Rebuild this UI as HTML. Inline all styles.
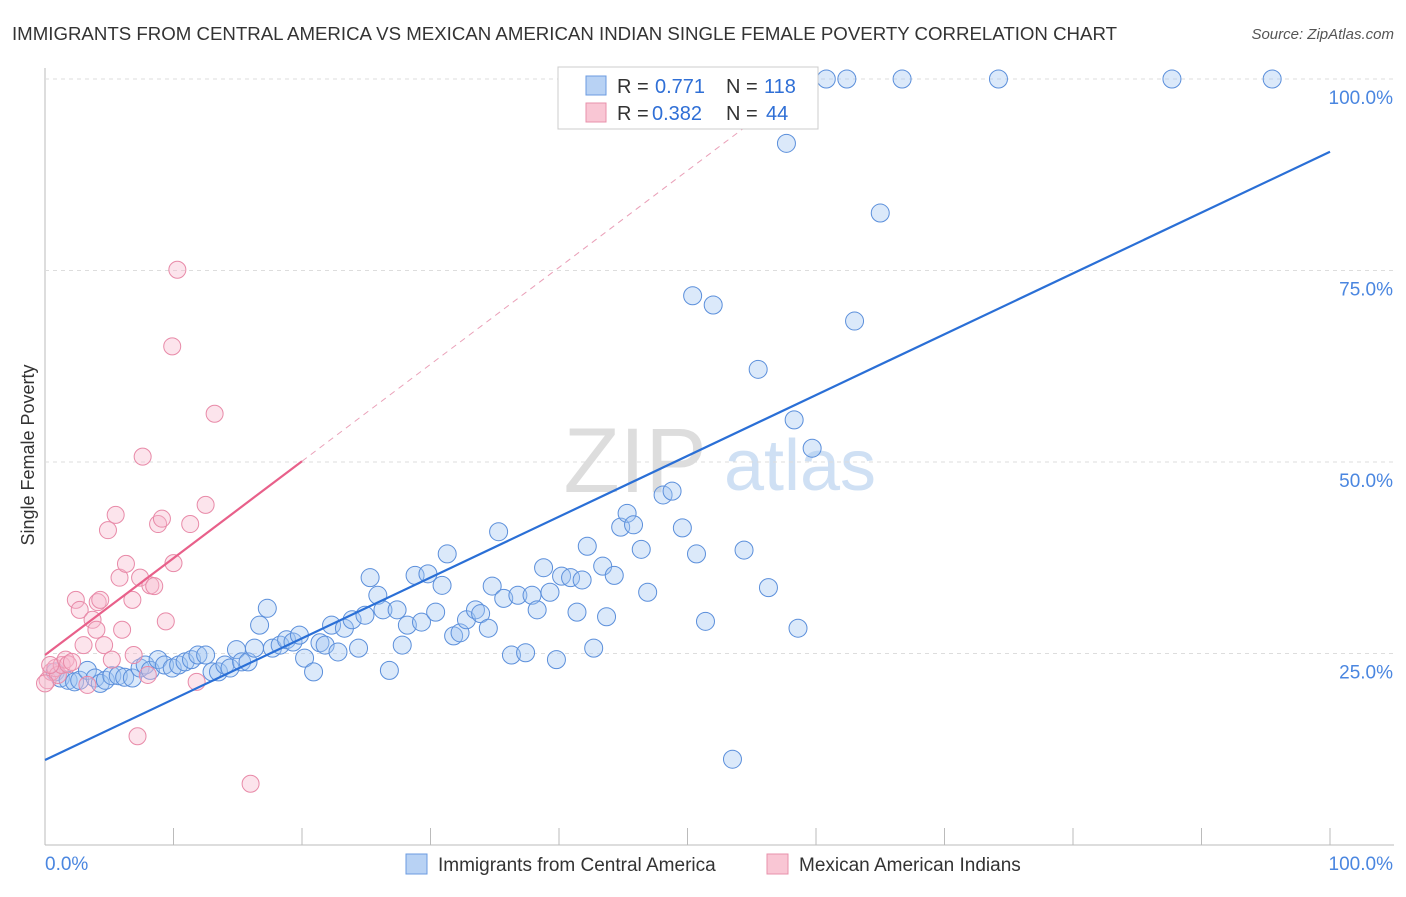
<!DOCTYPE html>
<html><head><meta charset="utf-8"><style>
body{margin:0;background:#fff;font-family:"Liberation Sans",sans-serif;}
svg text{font-family:"Liberation Sans",sans-serif;}
</style></head><body>
<svg id="chart" width="1406" height="892">
<text x="12" y="40" font-size="18" fill="#333" textLength="1105" lengthAdjust="spacingAndGlyphs">IMMIGRANTS FROM CENTRAL AMERICA VS MEXICAN AMERICAN INDIAN SINGLE FEMALE POVERTY CORRELATION CHART</text>
<text x="1394" y="39" font-size="15" fill="#555" text-anchor="end" font-style="italic">Source: ZipAtlas.com</text>
<text x="34" y="455" font-size="18" fill="#333" text-anchor="middle" transform="rotate(-90 34 455)">Single Female Poverty</text>
<g><text x="635" y="492" font-size="92" fill="#ddd" font-family="Liberation Serif" text-anchor="middle">ZIP</text><text x="800" y="490" font-size="72" fill="#cfe0f4" text-anchor="middle">atlas</text></g>
<g id="grid"></g><g id="marks"></g><g id="trend"></g>
<g>
<rect x="558" y="67" width="260" height="62" fill="#fff" stroke="#ccc"/>
<rect x="586" y="76" width="20" height="19" fill="#b8d2f4" stroke="#6b9be0"/>
<text x="617" y="93" font-size="20" fill="#333">R =</text><text x="655" y="93" font-size="20" fill="#2f6fd6">0.771</text><text x="726" y="93" font-size="20" fill="#333">N =</text><text x="764" y="93" font-size="20" fill="#2f6fd6">118</text>
<rect x="586" y="103" width="20" height="19" fill="#f9c6d4" stroke="#e891ab"/>
<text x="617" y="120" font-size="20" fill="#333">R =</text><text x="652" y="120" font-size="20" fill="#2f6fd6">0.382</text><text x="726" y="120" font-size="20" fill="#333">N =</text><text x="766" y="120" font-size="20" fill="#2f6fd6">44</text>
</g>
<g>
<rect x="406" y="854" width="21" height="20" fill="#b8d2f4" stroke="#6b9be0"/>
<text x="438" y="871" font-size="19" fill="#333">Immigrants from Central America</text>
<rect x="767" y="854" width="21" height="20" fill="#f9c6d4" stroke="#e891ab"/>
<text x="799" y="871" font-size="19" fill="#333">Mexican American Indians</text>
</g>
</svg>
<script>
const xTicks=[0,10,20,30,40,50,60,70,80,90,100];
const yTicks=[25,50,75,100];
const blueX=[0.8,1.2,1.8,2.3,2.7,3.3,3.9,4.3,4.7,5.2,5.7,6.2,6.8,7.4,7.8,8.2,8.8,9.3,9.9,10.4,10.9,11.4,11.9,12.5,13.0,13.5,14.0,14.4,14.9,15.3,15.8,16.3,16.7,17.3,17.7,18.3,18.8,19.3,19.8,20.2,20.9,21.4,21.8,22.3,22.8,23.3,23.9,24.4,24.9,25.3,25.9,26.3,26.8,27.4,27.8,28.2,28.8,29.3,29.8,30.4,30.9,31.3,31.8,32.3,32.8,33.5,33.9,34.5,34.8,35.3,35.7,36.3,36.8,37.4,37.9,38.3,38.8,39.3,39.8,40.2,40.9,41.4,41.8,42.2,42.7,43.4,43.7,44.3,44.8,45.3,45.8,46.4,46.9,48.1,48.8,49.6,50.4,50.7,51.4,52.0,53.5,54.4,55.5,56.3,58.3,58.6,59.7,57.7,63.0,65.0,56.7,60.8,62.4,66.7,74.2,87.7,95.5];
const blueY=[22.6,21.8,21.5,21.3,21.5,22.8,21.8,21.1,21.5,22.1,22.1,21.9,21.8,23.1,23.5,22.8,24.2,23.5,23.1,23.5,23.9,24.2,24.8,24.8,22.6,22.6,23.5,23.1,25.5,23.9,23.9,25.7,28.7,30.9,25.7,26.1,26.8,26.5,27.4,24.4,22.6,26.4,26.1,28.7,25.2,28.3,29.4,25.7,30.0,34.9,32.6,30.7,22.8,30.7,26.1,28.7,35.2,29.1,35.4,30.4,33.9,38.0,27.3,27.7,29.4,30.7,30.2,28.3,33.8,40.9,32.2,24.8,32.6,25.1,32.6,30.7,36.2,33.0,24.2,35.1,34.9,30.4,34.6,39.0,25.7,36.4,29.8,35.2,41.5,43.3,41.8,38.6,33.0,45.7,46.2,41.4,71.7,38.0,29.2,70.5,11.2,38.5,62.1,33.6,55.5,28.3,51.8,91.6,68.4,82.5,100,100,100,100,100,100,100];
const pinkX=[0.2,0.5,0.8,1.0,1.3,1.6,1.8,2.1,2.4,2.7,3.0,3.3,3.7,4.0,4.1,4.3,4.6,4.9,5.2,5.5,5.8,6.0,6.3,6.8,6.9,7.2,7.4,7.6,8.0,8.2,8.5,8.8,9.1,9.4,9.9,10.0,10.3,11.3,11.8,12.5,13.2,16.0,0.0,0.4];
const pinkY=[21.5,22.6,23.1,22.2,23.5,24.2,23.6,23.9,32.0,30.7,26.1,20.9,29.4,28.1,31.7,32.0,26.1,41.1,24.2,43.1,34.9,28.1,36.7,32.0,24.8,14.2,34.9,50.7,22.2,33.9,33.8,41.9,42.6,29.2,65.1,36.8,75.1,41.9,21.3,44.4,56.3,8.0,21.1,23.5];
const blueTrend=[11.1,90.5];
const pinkTrend=[24.8,50.1];
const pinkTrendEnd=20;
const NS="http://www.w3.org/2000/svg";
const X0=45,X1=1330,Y0=845,Y100=79;
function sx(v){return X0+(X1-X0)*v/100;}
function sy(v){return Y0-(Y0-Y100)*v/100;}
function mk(tag,attrs,parent){const e=document.createElementNS(NS,tag);for(const k in attrs)e.setAttribute(k,attrs[k]);parent.appendChild(e);return e;}
const grid=document.getElementById('grid');
const ax=mk('line',{x1:X0,y1:68,x2:X0,y2:Y0,stroke:'#bbb'},grid);


const bx=mk('line',{x1:X0,y1:Y0,x2:1394,y2:Y0,stroke:'#bbb'},grid);


yTicks.forEach(t=>{
 const g=mk('line',{x1:X0,y1:sy(t),x2:1394,y2:sy(t),stroke:'#ddd','stroke-dasharray':'4,4'},grid);
 
 
 const tx=mk('text',{x:1393,y:sy(t)+25,'font-size':19,fill:'#4a86e0','text-anchor':'end'},grid);
 tx.textContent=t.toFixed(1)+'%';
 
 
});
xTicks.forEach(t=>{
 const l=mk('line',{x1:sx(t),y1:828,x2:sx(t),y2:Y0,stroke:'#bbb'},grid);
 
 
});
[[0,'start',45],[100,'end',1393]].forEach(([t,a,x])=>{
 const tx=mk('text',{x:x,y:870,'font-size':19,fill:'#4a86e0','text-anchor':a},grid);
 tx.textContent=t.toFixed(1)+'%';
 
 
});
const marks=document.getElementById('marks');
blueX.forEach((v,i)=>{
 const c=mk('circle',{cx:sx(v),cy:sy(blueY[i]),r:9,fill:'rgba(160,196,242,0.38)',stroke:'#5b8fdb','stroke-width':1},marks);
 
 
});
pinkX.forEach((v,i)=>{
 const c=mk('circle',{cx:sx(v),cy:sy(pinkY[i]),r:8.5,fill:'rgba(248,185,205,0.38)',stroke:'#e88aa8','stroke-width':1},marks);
 
 
});
const tr=document.getElementById('trend');
const bl=mk('line',{x1:sx(0),y1:sy(blueTrend[0]),x2:sx(100),y2:sy(blueTrend[1]),stroke:'#2a6fd6','stroke-width':2.2},tr);


const slope=(pinkTrend[1]-pinkTrend[0])/pinkTrendEnd;
const pl=mk('line',{x1:sx(0),y1:sy(pinkTrend[0]),x2:sx(pinkTrendEnd),y2:sy(pinkTrend[1]),stroke:'#e8608a','stroke-width':2.2},tr);


const xEnd=(100-pinkTrend[0])/slope;
const pd=mk('line',{x1:sx(pinkTrendEnd),y1:sy(pinkTrend[1]),x2:sx(xEnd),y2:sy(100),stroke:'#eaa0b8','stroke-width':1,'stroke-dasharray':'6,5'},tr);


</script>
</body></html>
